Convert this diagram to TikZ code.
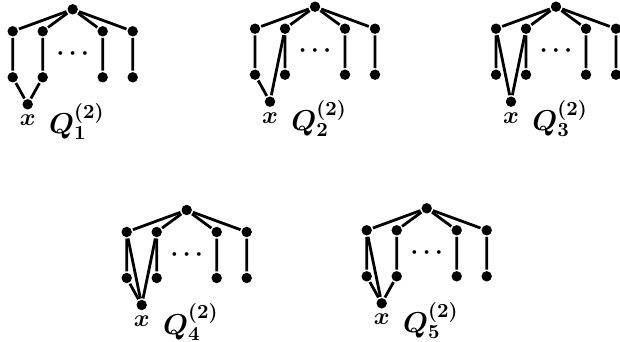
\documentclass[tikz,border=0pt]{standalone}
\usetikzlibrary{positioning}
\begin{document}
\begin{tikzpicture}[x=0.5pt, y=-0.5pt, line width=1.4pt,
    dot/.style={circle, fill, inner sep=0pt, minimum size=5.2pt},
    lbl/.style={font=\large\boldmath, inner sep=0pt},
    qlbl/.style={font=\Large\boldmath, inner sep=0pt, anchor=west}]
  \useasboundingbox (0,0) rectangle (620,342);
  % common part: root, two rows, the dots and the labels
  \foreach \g/\tx/\ty in {1/72.7/9.3, 2/315/6.7, 3/556/6.7, 4/186.7/210, 5/426.7/208.3} {
    \node[dot] (g\g-t) at (\tx,\ty) {};
    \foreach \i/\dx in {1/-60, 2/-30, 3/30, 4/60} {
      \node[dot] (g\g-u\i) at (\tx+\dx,\ty+22) {};
      \node[dot] (g\g-l\i) at (\tx+\dx,\ty+68) {};
      \draw (g\g-t) -- (g\g-u\i) -- (g\g-l\i);
    }
    \node[dot] (g\g-x) at (\tx-45,\ty+95) {};
    \node[lbl, below=1.5pt of g\g-x] (g\g-xl) {$x$};
    \node[qlbl] (g\g-q) at (\tx-25,\ty+112) {$Q_{\g}^{(2)}$};
    \node[lbl, anchor=base] (g\g-d) at (\tx,\ty+50) {$\cdots$};
  }
  % edges to x
  \draw (g1-l1) -- (g1-x) -- (g1-l2);
  \draw (g2-l1) -- (g2-x) -- (g2-u2);
  \draw (g3-u1) -- (g3-x) -- (g3-u2);
  \draw (g4-u1) -- (g4-x) -- (g4-u2);
  \draw (g4-l1) -- (g4-x);
  \draw (g5-u1) -- (g5-x) -- (g5-l2);
  \draw (g5-l1) -- (g5-x);
\end{tikzpicture}
\end{document}
